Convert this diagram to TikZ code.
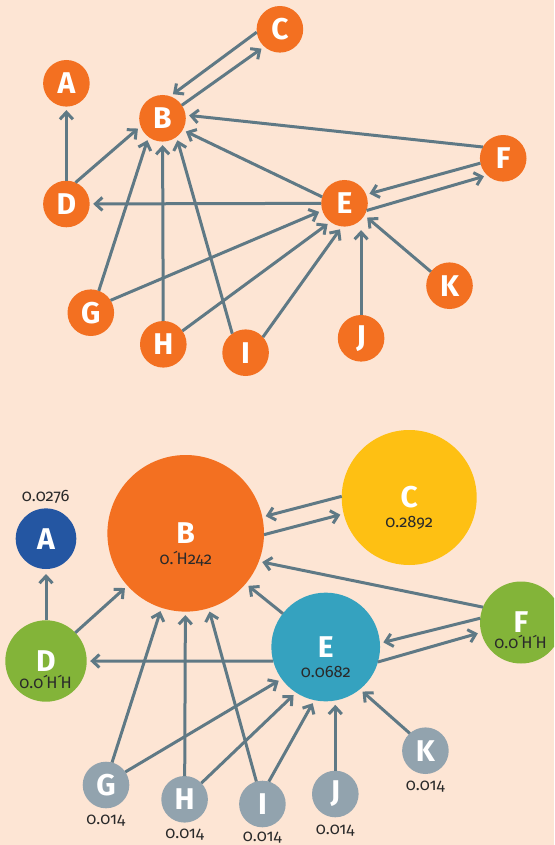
\documentclass[tikz,border=0pt]{standalone}
\usepackage{fontspec}
\setmainfont{Fira Sans}[Numbers=OldStyle]
\usetikzlibrary{arrows.meta}
\definecolor{bgc}{HTML}{FDE5D4}
\definecolor{orc}{HTML}{F37021}
\definecolor{edc}{HTML}{5F7985}
\definecolor{blc}{HTML}{2456A2}
\definecolor{yec}{HTML}{FEC013}
\definecolor{tec}{HTML}{35A2BF}
\definecolor{grc}{HTML}{83B439}
\definecolor{gyc}{HTML}{92A3AE}
\definecolor{txc}{HTML}{2A2A2A}
\newcommand{\tk}{\kern-0.3pt\char"00B4\kern-1.6pt}
\begin{document}
\begin{tikzpicture}[x=1pt,y=-1pt,
  nd/.style={circle,inner sep=0pt,outer sep=0pt,text=white,
    font=\fontsize{30}{30}\selectfont\bfseries},
  sm/.style={nd,fill=orc,minimum size=46.6pt},
  num/.style={anchor=base,inner sep=0pt,text=txc,font=\fontsize{16.5}{16.5}\selectfont},
  arr/.style={draw=edc,line width=3pt,-{Straight Barb[length=7pt,width=13pt]},shorten >=3.5pt}]
\useasboundingbox (0,0) rectangle (554,845);
\clip (0,0) rectangle (554,845);
\fill[bgc] (0,0) rectangle (554,845);
% ---------- top graph ----------
\node[sm] (A) at (66.4,83.3) {A};
\node[sm] (B) at (162.5,118.3) {B};
\node[sm] (C) at (279.9,29.3) {C};
\node[sm] (D) at (66.4,204) {D};
\node[sm] (E) at (344.5,203.3) {E};
\node[sm] (F) at (503.2,158.3) {F};
\node[sm] (G) at (90.8,312.7) {G};
\node[sm] (H) at (163.3,344.3) {H};
\node[sm] (I) at (245.6,352.7) {I};
\node[sm] (J) at (361.1,338.3) {J};
\node[sm] (K) at (449.5,285.7) {K};
\draw[arr] (D) -- (A);
\draw[arr] (D.67) -- (B.200);
\draw[arr] (C.187) -- (B.71);
\draw[arr] (B.34) -- (C.228);
\draw[arr] (F.151) -- (B.8);
\draw[arr] (E.164) -- (B.-30);
\draw[arr] (E) -- (D);
\draw[arr] (F.192) -- (E.22);
\draw[arr] (E.-18) -- (F.227);
\draw[arr] (G.70) -- (B.233);
\draw[arr] (G.32) -- (E.198);
\draw[arr] (H) -- (B);
\draw[arr] (H.35) -- (E.233);
\draw[arr] (I.125) -- (B.-53);
\draw[arr] (I.42) -- (E.264);
\draw[arr] (J) -- (J |- E.south);
\draw[arr] (K.143) -- (E.-31);
% ---------- bottom graph ----------
\node[nd,fill=blc,minimum size=60.6pt] (A2) at (46,538.7) {A};
\node[nd,fill=orc,minimum size=156.6pt] (B2) at (185.7,533.3) {B};
\node[nd,fill=yec,minimum size=135pt] (C2) at (409.2,497.5) {C};
\node[nd,fill=grc,minimum size=81.4pt] (D2) at (46,661) {D};
\node[nd,fill=tec,minimum size=108.7pt] (E2) at (325.7,647) {E};
\node[nd,fill=grc,minimum size=82pt] (F2) at (521,622.5) {F};
\node[nd,fill=gyc,minimum size=46.6pt] (G2) at (106,785) {G};
\node[nd,fill=gyc,minimum size=46.6pt] (H2) at (184.6,799.3) {H};
\node[nd,fill=gyc,minimum size=46.6pt] (I2) at (262.4,804) {I};
\node[nd,fill=gyc,minimum size=46.6pt] (J2) at (335.3,794) {J};
\node[nd,fill=gyc,minimum size=46.6pt] (K2) at (425.4,750.7) {K};
\node[num] (nA) at (45.7,501.7) {0.0276};
\node[num] (nB) at (185.8,564) {0.\tk H242};
\node[num] (nC) at (409.2,527.3) {0.2892};
\node[num] (nD) at (45.6,688.3) {0.0\tk H\tk H};
\node[num] (nE) at (325.8,677.3) {0.0682};
\node[num] (nF) at (520.7,648.3) {0.0\tk H\tk H};
\node[num] (nG) at (105.8,824) {0.014};
\node[num] (nH) at (184.7,838.3) {0.014};
\node[num] (nI) at (262.3,841.7) {0.014};
\node[num] (nJ) at (335.2,834) {0.014};
\node[num] (nK) at (425.3,790) {0.014};
\draw[arr,shorten >=5pt] (D2) -- (A2);
\draw[arr] (D2.44) -- (B2.222);
\draw[arr] (C2.179) -- (B2.12);
\draw[arr] (B2.-1) -- (C2.194);
\draw[arr] (F2.158) -- (B2.-21.5);
\draw[arr] (E2.142) -- (B2.-40);
\draw[arr] (E2.195) -- (D2);
\draw[arr] (F2.174) -- (E2.4);
\draw[arr] (E2.-16) -- (F2.194);
\draw[arr] (G2.75) -- (B2.252);
\draw[arr] (G2.34) -- (E2.216);
\draw[arr] (H2) -- (B2);
\draw[arr] (H2.44) -- (E2.237);
\draw[arr] (I2.105) -- (B2.287);
\draw[arr] (I2.74) -- (E2.258);
\draw[arr] (J2) -- (J2 |- E2.south);
\draw[arr] (K2.132) -- (E2.-51);
\end{tikzpicture}
\end{document}
